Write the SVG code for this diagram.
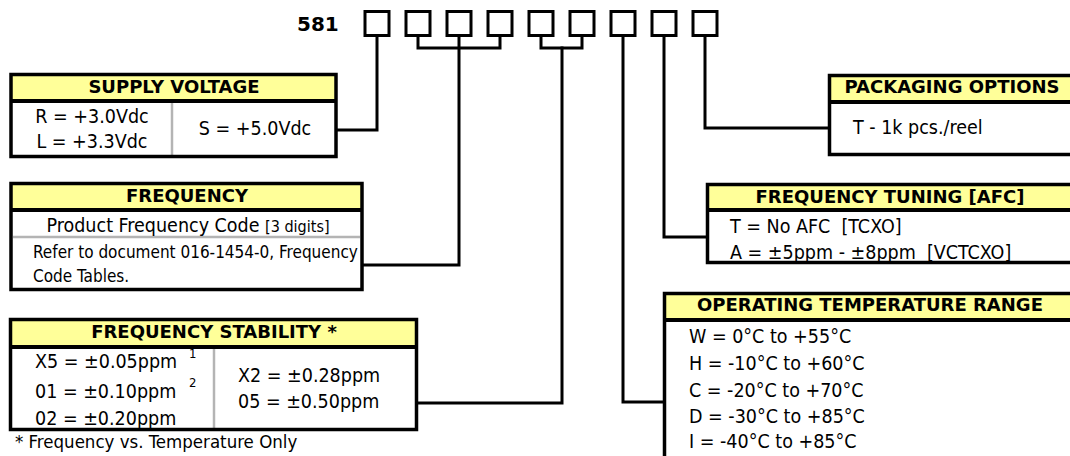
<svg xmlns="http://www.w3.org/2000/svg" width="1070" height="456" viewBox="0 0 1070 456">
<style>
.hdr{fill:#ffff99}
.body{fill:#ffffff}
.frame{fill:none;stroke:#000;stroke-width:3.5}
.sep{stroke:#000;stroke-width:4}
.div{stroke:#b4b4b4;stroke-width:2.5}
.sq{fill:#fff;stroke:#000;stroke-width:3}
.con{fill:none;stroke:#000;stroke-width:3;stroke-linejoin:miter;stroke-linecap:square}
.h{font-family:"DejaVu Sans",sans-serif;font-weight:bold;font-size:18px;fill:#000;text-anchor:middle}
.t{font-family:"DejaVu Sans",sans-serif;font-stretch:condensed;font-size:19.5px;fill:#000;white-space:pre}
.s{font-family:"DejaVu Sans",sans-serif;font-stretch:condensed;font-size:17px;fill:#000}
.m{text-anchor:middle}
.code{font-family:"DejaVu Sans",sans-serif;font-weight:bold;font-size:20px;fill:#000}
</style>
<g id="partnumber">
<text class="code" x="297" y="31">581</text>
<rect class="sq" x="365" y="11.5" width="24" height="24"/>
<rect class="sq" x="406" y="11.5" width="24" height="24"/>
<rect class="sq" x="447" y="11.5" width="24" height="24"/>
<rect class="sq" x="488" y="11.5" width="24" height="24"/>
<rect class="sq" x="529" y="11.5" width="24" height="24"/>
<rect class="sq" x="570" y="11.5" width="24" height="24"/>
<rect class="sq" x="611" y="11.5" width="24" height="24"/>
<rect class="sq" x="652" y="11.5" width="24" height="24"/>
<rect class="sq" x="693" y="11.5" width="24" height="24"/>
</g>
<g id="connectors">
<polyline class="con" points="337,130 377,130 377,37"/>
<polyline class="con" points="363,265 459,265 459,37"/>
<polyline class="con" points="418,37 418,48 500,48 500,37"/>
<polyline class="con" points="418,403 562,403 562,48"/>
<polyline class="con" points="541,37 541,48 582,48 582,37"/>
<polyline class="con" points="623,37 623,402 663,402"/>
<polyline class="con" points="664,37 664,237 706,237"/>
<polyline class="con" points="705,37 705,128 828,128"/>
</g>
<g id="supply-voltage">
<rect class="body" x="11" y="74.5" width="325" height="82"/>
<rect class="hdr" x="11" y="74.5" width="325" height="26"/>
<line class="sep" x1="11" y1="101" x2="336" y2="101"/>
<line class="div" x1="172" y1="103" x2="172" y2="155"/>
<rect class="frame" x="11" y="74.5" width="325" height="82"/>
<text class="h" x="174" y="93">SUPPLY VOLTAGE</text>
<text class="t m" x="92" y="123">R = +3.0Vdc</text>
<text class="t m" x="92" y="148">L = +3.3Vdc</text>
<text class="t m" x="255" y="135">S = +5.0Vdc</text>
</g>
<g id="frequency">
<rect class="body" x="11" y="183.5" width="351" height="106"/>
<rect class="hdr" x="11" y="183.5" width="351" height="26"/>
<line class="sep" x1="11" y1="210" x2="362" y2="210"/>
<line class="div" x1="13" y1="237" x2="360" y2="237"/>
<rect class="frame" x="11" y="183.5" width="351" height="106"/>
<text class="h" x="187" y="202">FREQUENCY</text>
<text class="t m" x="188" y="232">Product Frequency Code <tspan style="font-size:16px">[3 digits]</tspan></text>
<text class="s" x="33" y="258">Refer to document 016-1454-0, Frequency</text>
<text class="s" x="33" y="282">Code Tables.</text>
</g>
<g id="frequency-stability">
<rect class="body" x="10.5" y="319.5" width="406" height="110"/>
<rect class="hdr" x="10.5" y="319.5" width="406" height="27"/>
<line class="sep" x1="10.5" y1="347" x2="416.5" y2="347"/>
<line class="div" x1="214" y1="349" x2="214" y2="428"/>
<rect class="frame" x="10.5" y="319.5" width="406" height="110"/>
<text class="h" x="214" y="338">FREQUENCY STABILITY *</text>
<text class="t" x="35" y="368">X5 = ±0.05ppm</text>
<text class="t" x="35" y="398">01 = ±0.10ppm</text>
<text class="t" x="35" y="425">02 = ±0.20ppm</text>
<text class="s" x="189" y="358" style="font-size:13px">1</text>
<text class="s" x="189" y="387" style="font-size:13px">2</text>
<text class="t" x="238" y="382">X2 = ±0.28ppm</text>
<text class="t" x="238" y="408">05 = ±0.50ppm</text>
<text class="s" x="15" y="448" style="font-size:18.5px">* Frequency vs. Temperature Only</text>
</g>
<g id="packaging-options">
<rect class="body" x="829.5" y="75.5" width="260" height="79"/>
<rect class="hdr" x="829.5" y="75.5" width="260" height="26"/>
<line class="sep" x1="829.5" y1="102" x2="1090" y2="102"/>
<rect class="frame" x="829.5" y="75.5" width="260" height="79"/>
<text class="h" x="952" y="93">PACKAGING OPTIONS</text>
<text class="t" x="853" y="134">T - 1k pcs./reel</text>
</g>
<g id="frequency-tuning">
<rect class="body" x="707.5" y="184.5" width="380" height="78"/>
<rect class="hdr" x="707.5" y="184.5" width="380" height="25"/>
<line class="sep" x1="707.5" y1="210" x2="1088" y2="210"/>
<rect class="frame" x="707.5" y="184.5" width="380" height="78"/>
<text class="h" x="890" y="203">FREQUENCY TUNING [AFC]</text>
<text class="t" x="730" y="233">T = No AFC  [TCXO]</text>
<text class="t" x="730" y="258.5">A = ±5ppm - ±8ppm  [VCTCXO]</text>
</g>
<g id="operating-temperature">
<rect class="body" x="664.5" y="293.5" width="420" height="180"/>
<rect class="hdr" x="664.5" y="293.5" width="420" height="26"/>
<line class="sep" x1="664.5" y1="320" x2="1085" y2="320"/>
<rect class="frame" x="664.5" y="293.5" width="420" height="180"/>
<text class="h" x="870" y="311">OPERATING TEMPERATURE RANGE</text>
<text class="t" x="689" y="343">W = 0°C to +55°C</text>
<text class="t" x="689" y="370">H = -10°C to +60°C</text>
<text class="t" x="689" y="397">C = -20°C to +70°C</text>
<text class="t" x="689" y="423">D = -30°C to +85°C</text>
<text class="t" x="689" y="448">I = -40°C to +85°C</text>
</g>
</svg>
